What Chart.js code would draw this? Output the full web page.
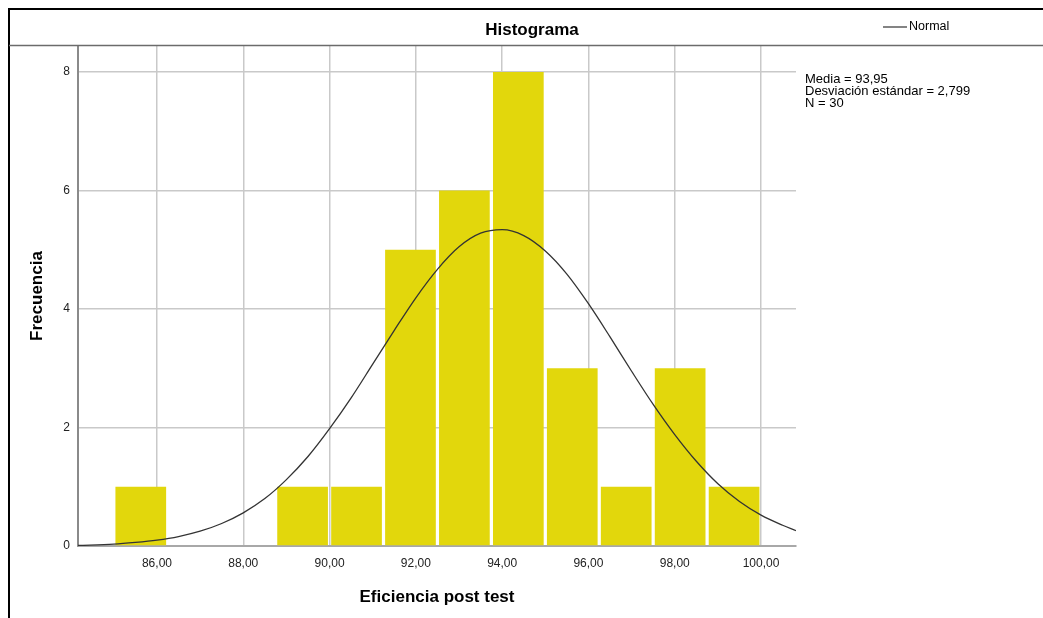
<!DOCTYPE html>
<html>
<head>
<meta charset="utf-8">
<script src="https://cdn.jsdelivr.net/npm/chart.js"></script>
<style>
  html, body { margin: 0; padding: 0; background: #ffffff; }
  #chart { display: block; }
</style>
</head>
<body>
<canvas id="chart" width="1043" height="618"></canvas>
<script>
// Histogram bins (centre of each 1,25-wide bin) and their counts
const binCenters = [85.625, 86.875, 88.125, 89.375, 90.625, 91.875, 93.125, 94.375, 95.625, 96.875, 98.125, 99.375];
const binCounts = [1, 0, 0, 1, 1, 5, 6, 8, 3, 1, 3, 1];

// Normal curve
const normalX = [84.17, 85, 85.5, 86, 86.5, 87, 87.5, 88, 88.5, 89, 89.5, 90, 90.5, 91, 91.5, 92, 92.5, 93, 93.5, 94,
  94.5, 95, 95.5, 96, 96.5, 97, 97.5, 98, 98.5, 99, 99.5, 100, 100.5, 100.81];
const normalY = [0.01, 0.03, 0.06, 0.10, 0.16, 0.25, 0.38, 0.56, 0.80, 1.12, 1.51, 1.98, 2.50, 3.07, 3.64, 4.19,
  4.67, 5.05, 5.28, 5.34, 5.24, 4.98, 4.59, 4.09, 3.53, 2.95, 2.39, 1.88, 1.43, 1.05, 0.75, 0.52, 0.35, 0.26];

const xTickValues = [86, 88, 90, 92, 94, 96, 98, 100];
const yTickValues = [0, 2, 4, 6, 8];
const statLines = ["Media = 93,95", "Desviación estándar = 2,799", "N = 30"];

const X_MIN = 84.17;
const X_MAX = 100.81;
const Y_MAX = 8.44;

const FONT = "'Liberation Sans', Arial, sans-serif";

const framePlugin = {
  id: "spssFrame",
  afterDraw(chart) {
    const ctx = chart.ctx;
    const w = chart.width;
    const h = chart.height;
    const area = chart.chartArea;
    ctx.save();

    // outer frame (top + left)
    ctx.strokeStyle = "#000000";
    ctx.lineWidth = 2;
    ctx.beginPath();
    ctx.moveTo(9, h);
    ctx.lineTo(9, 9);
    ctx.lineTo(w, 9);
    ctx.stroke();

    // title separator
    ctx.strokeStyle = "#6b6b6b";
    ctx.lineWidth = 1.5;
    ctx.beginPath();
    ctx.moveTo(9, 45.5);
    ctx.lineTo(w, 45.5);
    ctx.stroke();

    // title
    ctx.fillStyle = "#000000";
    ctx.font = "bold 17px " + FONT;
    ctx.textAlign = "center";
    ctx.textBaseline = "middle";
    ctx.fillText("Histograma", 532, 30);

    // legend
    ctx.strokeStyle = "#333333";
    ctx.lineWidth = 1.2;
    ctx.beginPath();
    ctx.moveTo(883, 27);
    ctx.lineTo(907, 27);
    ctx.stroke();
    ctx.font = "12.5px " + FONT;
    ctx.textAlign = "left";
    ctx.fillText("Normal", 909, 27);

    // stats
    ctx.font = "13px " + FONT;
    statLines.forEach((line, i) => {
      ctx.fillText(line, area.right + 9, 79.5 + i * 11.8);
    });

    ctx.restore();
  },
};

new Chart(document.getElementById("chart"), {
  type: "bar",
  data: {
    datasets: [
      {
        type: "line",
        label: "Normal",
        data: normalX.map((x, i) => ({ x, y: normalY[i] })),
        borderColor: "#333333",
        borderWidth: 1.3,
        pointRadius: 0,
        fill: false,
        cubicInterpolationMode: "monotone",
        order: 0,
      },
      {
        label: "Frecuencia",
        data: binCenters.map((x, i) => ({ x, y: binCounts[i] })),
        backgroundColor: "rgb(226, 215, 12)",
        borderWidth: 0,
        categoryPercentage: 1,
        barPercentage: 0.94,
        order: 1,
      },
    ],
  },
  options: {
    responsive: false,
    animation: false,
    layout: { padding: { left: 0, top: 46, right: 247, bottom: 0 } },
    plugins: {
      legend: { display: false },
      tooltip: { enabled: false },
      title: { display: false },
    },
    scales: {
      x: {
        type: "linear",
        min: X_MIN,
        max: X_MAX,
        offset: false,
        afterBuildTicks: (scale) => { scale.ticks = xTickValues.map((value) => ({ value })); },
        afterFit: (scale) => { scale.height = 72; },
        grid: { color: "#c9c9c9", lineWidth: 1.5, drawTicks: false, offset: false },
        border: { color: "#a8a8a8", width: 2 },
        ticks: {
          padding: 10,
          color: "#222222",
          font: { family: FONT, size: 12 },
          maxRotation: 0,
          callback: (v) => v.toFixed(2).replace(".", ","),
        },
        title: {
          display: true,
          text: "Eficiencia post test",
          color: "#000000",
          font: { family: FONT, size: 17, weight: "bold" },
          padding: { top: 0, bottom: 10 },
        },
      },
      y: {
        min: 0,
        max: Y_MAX,
        afterBuildTicks: (scale) => { scale.ticks = yTickValues.map((value) => ({ value })); },
        afterFit: (scale) => { scale.width = 78; },
        grid: { color: "#c9c9c9", lineWidth: 1.5, drawTicks: false },
        border: { color: "#8a8a8a", width: 2 },
        ticks: {
          padding: 8,
          color: "#222222",
          font: { family: FONT, size: 12 },
        },
        title: {
          display: true,
          text: "Frecuencia",
          color: "#000000",
          font: { family: FONT, size: 17, weight: "bold" },
          padding: { top: 27, bottom: 0 },
        },
      },
    },
  },
  plugins: [framePlugin],
});
</script>
</body>
</html>
